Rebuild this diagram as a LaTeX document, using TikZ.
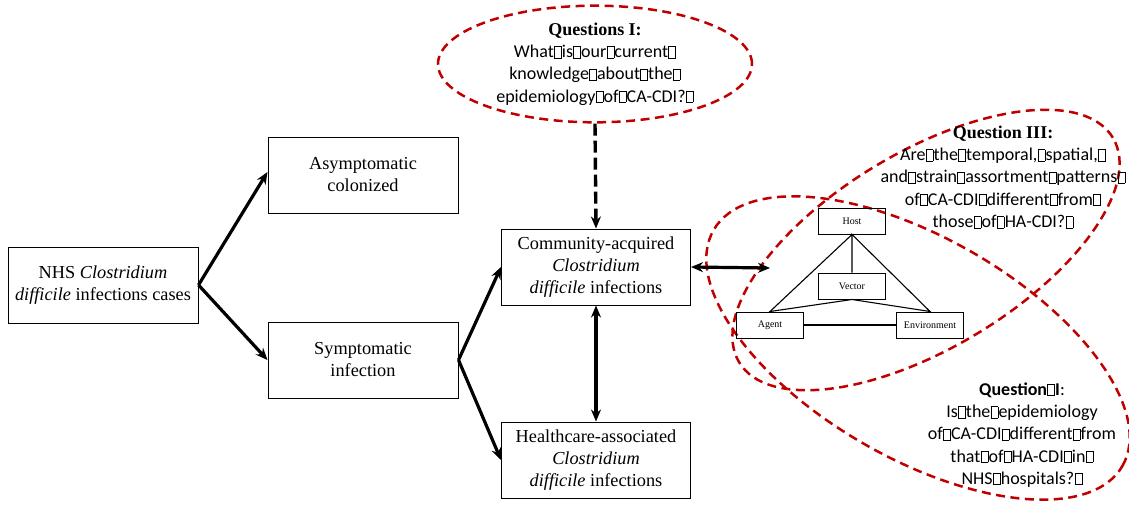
\documentclass[tikz,border=0pt]{standalone}
\usepackage{fontspec}
\setmainfont{Liberation Serif}
\newfontfamily\calib{Carlito}
\usetikzlibrary{arrows.meta,shapes.geometric}
\definecolor{qred}{RGB}{192,0,0}
% small empty frame standing in for an unrenderable character
\newcommand\nb{{\setlength{\fboxsep}{0pt}\setlength{\fboxrule}{0.5pt}\kern0.3pt\fbox{\rule{0pt}{0.6em}\hspace{0.36em}}\kern0.3pt}}
\tikzset{
  stagebox/.style={draw, line width=1pt, minimum width=190pt, minimum height=76pt,
    inner sep=0pt, align=center, font=\fontsize{18.3}{22}\selectfont},
  modelbox/.style={draw, line width=1pt, minimum width=67pt, minimum height=26pt,
    inner sep=0pt, font=\fontsize{10}{12}\selectfont},
  flow/.style={line width=3.2pt, -{Stealth[length=12pt,width=10pt]}},
  both/.style={line width=3.2pt, {Stealth[length=12pt,width=10pt]}-{Stealth[length=12pt,width=10pt]}},
  qdash/.style={draw=qred, line width=2.5pt, dash pattern=on 9pt off 5.5pt},
  qtext/.style={align=center, inner sep=0pt, font=\calib\fontsize{18}{22.3}\selectfont},
}
\begin{document}
\begin{tikzpicture}[x=1pt, y=-1pt]
\useasboundingbox (0,0) rectangle (1129,508);

% question regions
\node[qdash, ellipse, minimum width=314pt, minimum height=108pt, inner sep=0pt,
  qtext] (qone) at (595,64)
  {{\rmfamily\bfseries Questions I:}\\What\nb{}is\nb{}our\nb{}current\nb{}\\knowledge\nb{}about\nb{}the\nb{}\\epidemiology\nb{}of\nb{}CA-CDI?\nb{}};
\node[qdash, ellipse, minimum width=436pt, minimum height=196pt, rotate=31] (qthree) at (926,250) {};
\node[qdash, ellipse, minimum width=472pt, minimum height=220pt, rotate=-30] (qtwo) at (918,348) {};

\node[qtext] (qthreetext) at (1003,177)
  {{\rmfamily\bfseries Question III:}\\Are\nb{}the\nb{}temporal,\nb{}spatial,\nb{}\\and\nb{}strain\nb{}assortment\nb{}patterns\nb{}\\of\nb{}CA-CDI\nb{}different\nb{}from\nb{}\\those\nb{}of\nb{}HA-CDI?\nb{}};
\node[qtext] (qtwotext) at (1022,435)
  {{\bfseries Question\nb{}I}:\\Is\nb{}the\nb{}epidemiology\\of\nb{}CA-CDI\nb{}different\nb{}from\\that\nb{}of\nb{}HA-CDI\nb{}in\nb{}\\NHS\nb{}hospitals?\nb{}};

% case stages
\node[stagebox] (nhs) at (103,285) {NHS \textit{Clostridium}\\\textit{difficile} infections cases};
\node[stagebox] (asym) at (363,175) {Asymptomatic\\colonized};
\node[stagebox] (sym) at (363,360) {Symptomatic\\infection};
\node[stagebox, minimum width=189pt] (ca) at (596,267) {Community-acquired\\\textit{Clostridium}\\\textit{difficile} infections};
\node[stagebox, minimum width=189pt] (ha) at (596,460) {Healthcare-associated\\\textit{Clostridium}\\\textit{difficile} infections};

% epidemiological triangle
\node[modelbox] (host) at (852,221) {Host};
\node[modelbox] (vector) at (852,286) {Vector};
\node[modelbox] (agent) at (770,325) {Agent};
\node[modelbox] (env) at (930,325) {Environment};
\draw[line width=1.1pt] (host.south) -- (agent.north) -- (vector.south) -- (env.north) -- (host.south) -- (vector.north);
\draw[line width=1.1pt] (agent.east) -- (env.west);

% flows
\draw[flow] (nhs.east) -- ([yshift=3pt]asym.west);
\draw[flow] (nhs.east) -- (sym.west);
\draw[flow] (sym.east) -- (ca.west);
\draw[flow] (sym.east) -- (ha.west);
\draw[both] (ca.south) -- (ha.north);
\coordinate (triin) at (770,268);
\draw[both] (ca.east) -- (triin);
\draw[line width=3.4pt, dash pattern=on 12pt off 5pt, -{Stealth[length=12pt,width=10pt]}] (qone.south) -- (ca.north);
\end{tikzpicture}
\end{document}
